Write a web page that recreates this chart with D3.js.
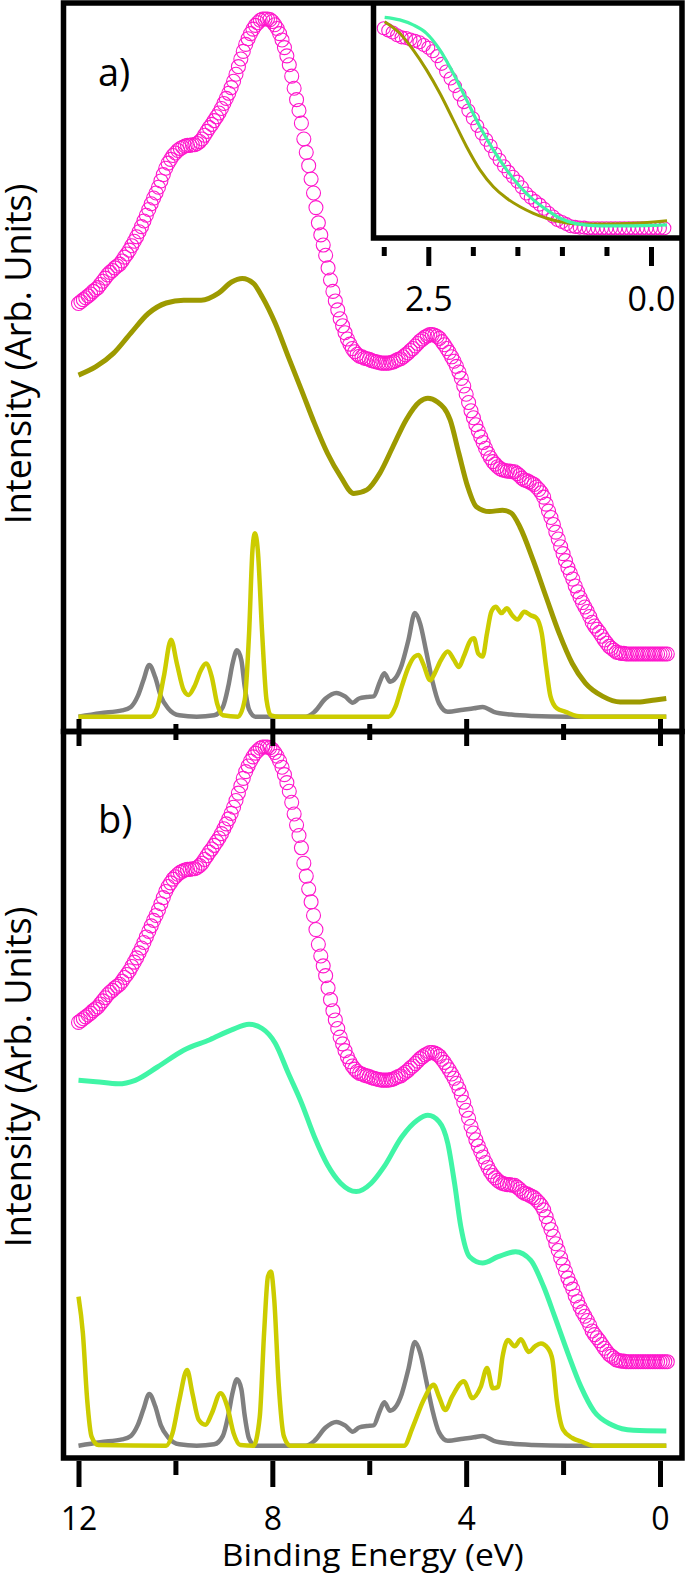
<!DOCTYPE html>
<html><head><meta charset="utf-8">
<script src="https://cdn.jsdelivr.net/npm/d3@7/dist/d3.min.js"></script>
<style>body{margin:0;background:#fff}svg{display:block}text{font-family:"Open Sans",sans-serif;fill:#000}</style>
</head><body><svg id="c" width="685" height="1575"></svg>
<script>
// ---------------- DATA ----------------
// measured spectrum (circles), sampled every 0.05 eV starting at 12.00 eV
const expStartEV = 12.0, expStepEV = 0.05;
const experiment = [
55.2,55.5,55.8,56.1,56.4,56.7,57.1,57.4,57.7,58.2,
58.7,59.2,59.7,60.1,60.4,60.8,61.1,61.4,61.9,62.5,
63.0,63.6,64.3,65.0,65.7,66.5,67.3,68.2,69.1,70.0,
70.9,71.8,72.6,73.5,74.5,75.5,76.5,77.3,77.9,78.5,
78.9,79.3,79.6,79.8,80.0,80.1,80.1,80.2,80.2,80.4,
80.7,81.1,81.7,82.3,82.9,83.4,84.0,84.6,85.2,85.9,
86.7,87.5,88.3,89.2,90.2,91.3,92.5,93.7,94.9,96.0,
96.9,97.7,98.4,99.0,99.4,99.8,100.0,100.0,100.0,99.9,
99.6,99.1,98.5,97.7,96.7,95.5,94.2,92.8,91.0,89.1,
87.3,85.6,83.6,81.1,79.0,76.9,74.8,72.6,70.3,67.9,
66.0,64.4,62.8,60.8,58.9,57.1,55.6,54.2,52.8,51.7,
50.6,49.6,48.8,48.1,47.6,47.2,46.9,46.8,46.6,46.5,
46.4,46.2,46.1,46.0,45.9,45.8,45.8,45.8,45.8,45.9,
46.0,46.2,46.4,46.5,46.8,47.1,47.4,47.8,48.1,48.5,
48.9,49.3,49.6,49.9,50.1,50.3,50.3,50.2,50.0,49.7,
49.2,48.7,48.1,47.5,46.8,46.1,45.3,44.4,43.4,42.2,
40.9,39.6,38.3,37.2,36.1,35.1,34.2,33.3,32.4,31.6,
30.9,30.3,29.9,29.5,29.2,29.0,28.9,28.8,28.8,28.7,
28.7,28.4,28.1,27.7,27.4,27.3,27.1,26.9,26.7,26.3,
25.9,25.4,24.7,23.6,22.5,21.5,20.4,19.2,18.1,16.9,
15.8,14.7,13.6,12.7,11.8,10.7,9.8,8.9,8.1,7.4,
6.7,5.9,5.0,4.4,3.9,3.4,2.8,2.2,1.7,1.2,
0.9,0.6,0.3,0.2,0.1,0.1,0.0,0.0,0.0,0.0,
0.0,0.0,0.0,0.0,0.0,0.0,0.0,0.0,0.0,0.0,
0.0,0.0,0.0,0.0
];
// panel a broadened theory (olive) [eV, intensity]
const oliveA = [[12.00,48.8],[11.64,50.0],[11.28,51.9],[10.92,54.8],[10.56,57.6],[10.19,59.1],[9.83,59.5],[9.47,59.5],[9.11,60.5],[8.84,62.1],[8.62,62.6],[8.39,61.9],[8.21,60.0],[7.94,56.2],[7.67,51.4],[7.40,46.7],[7.13,41.9],[6.86,37.6],[6.59,34.3],[6.32,31.9],[6.05,32.4],[5.78,34.8],[5.51,38.6],[5.24,42.4],[4.96,45.0],[4.79,45.5],[4.60,45.0],[4.33,42.4],[4.15,37.6],[3.97,32.9],[3.79,30.0],[3.52,29.3],[3.25,29.5],[3.07,29.1],[2.89,27.1],[2.62,22.4],[2.35,17.1],[2.08,11.9],[1.81,7.6],[1.54,4.8],[1.18,2.9],[0.82,2.1],[0.46,2.1],[0.10,2.4],[-0.13,2.6]];
// panel b broadened theory (green)
const tealB = [[12.00,52.2],[11.64,52.0],[11.18,51.7],[10.83,52.2],[10.37,54.1],[9.83,56.5],[9.29,58.0],[8.84,59.4],[8.48,60.2],[8.21,59.6],[7.94,57.5],[7.67,53.2],[7.40,49.0],[7.13,44.1],[6.86,40.1],[6.59,37.5],[6.27,36.3],[5.96,37.5],[5.69,39.9],[5.33,44.1],[5.01,46.5],[4.79,47.2],[4.56,46.3],[4.38,43.2],[4.24,37.5],[4.11,31.3],[3.93,27.0],[3.66,26.1],[3.34,27.0],[2.98,27.7],[2.67,26.5],[2.40,22.7],[2.17,18.4],[1.90,13.2],[1.63,8.4],[1.36,4.9],[1.00,3.0],[0.55,2.2],[-0.13,2.1]];
// partial DOS (grey), same in both panels
const greyDOS = [[12.00,0.0],[11.55,0.5],[11.10,0.9],[10.92,1.4],[10.78,2.9],[10.66,5.2],[10.54,7.4],[10.42,5.7],[10.30,2.9],[10.15,1.2],[9.92,0.2],[9.56,0.0],[9.20,0.2],[9.02,1.4],[8.91,4.3],[8.82,7.6],[8.73,9.5],[8.64,8.1],[8.57,4.3],[8.48,1.0],[8.35,0.0],[7.31,0.0],[7.13,0.7],[6.90,2.6],[6.68,3.4],[6.50,2.9],[6.34,2.0],[6.21,2.6],[6.05,2.8],[5.91,2.9],[5.78,5.0],[5.69,6.2],[5.57,5.0],[5.46,5.5],[5.33,7.4],[5.19,11.0],[5.06,14.8],[4.95,13.3],[4.83,9.5],[4.70,5.2],[4.56,1.9],[4.38,0.7],[4.06,1.0],[3.84,1.2],[3.66,1.4],[3.43,0.7],[3.07,0.3],[2.62,0.1],[1.90,0.0],[-0.13,0.0]];
// partial DOS (yellow), panel a
const yellowA = [[12.00,0.0],[10.51,0.0],[10.37,1.4],[10.24,5.7],[10.09,11.0],[9.97,7.6],[9.83,3.8],[9.73,3.1],[9.61,4.3],[9.47,6.7],[9.37,7.6],[9.25,5.7],[9.14,1.9],[9.02,0.2],[8.71,0.0],[8.57,2.4],[8.48,11.9],[8.41,23.8],[8.36,26.2],[8.30,23.8],[8.21,11.9],[8.12,2.4],[8.03,0.2],[7.85,0.0],[5.60,0.0],[5.46,1.4],[5.33,4.3],[5.19,7.1],[5.06,8.6],[4.98,8.8],[4.89,7.6],[4.74,5.2],[4.65,6.2],[4.52,8.1],[4.38,9.3],[4.25,8.1],[4.15,7.1],[4.05,8.6],[3.90,11.0],[3.84,11.2],[3.75,9.0],[3.66,8.6],[3.57,11.9],[3.48,15.0],[3.39,15.7],[3.27,14.8],[3.16,15.5],[3.05,14.5],[2.94,13.9],[2.80,15.0],[2.67,14.5],[2.55,14.1],[2.44,11.9],[2.35,7.1],[2.26,2.9],[2.13,1.2],[1.95,0.7],[1.72,0.1],[1.54,0.0],[-0.13,0.0]];
// partial DOS (yellow), panel b
const yellowB = [[12.00,21.3],[11.91,16.1],[11.82,6.5],[11.73,1.3],[11.59,0.1],[10.19,0.0],[10.06,1.8],[9.92,6.5],[9.76,10.8],[9.65,7.5],[9.52,3.7],[9.38,3.0],[9.25,4.6],[9.07,7.5],[8.93,5.6],[8.80,1.8],[8.66,0.1],[8.39,0.0],[8.26,4.1],[8.17,16.1],[8.09,24.2],[8.03,24.9],[7.96,20.8],[7.87,8.9],[7.76,1.3],[7.63,0.0],[5.28,0.0],[5.10,2.7],[4.88,6.5],[4.67,8.7],[4.56,7.0],[4.43,5.1],[4.29,7.0],[4.05,9.2],[3.87,6.8],[3.70,8.4],[3.57,11.1],[3.45,8.2],[3.34,8.4],[3.25,12.7],[3.14,15.1],[3.00,14.2],[2.87,15.2],[2.71,13.4],[2.58,14.2],[2.46,14.6],[2.31,13.9],[2.22,12.3],[2.13,6.5],[2.00,2.3],[1.81,1.1],[1.63,0.6],[1.36,0.0],[-0.13,0.0]];
// inset: valence-band edge
const insetMaxEV = 3.0;
const insetTeal = [[2.99,105.5],[2.82,104.2],[2.67,101.7],[2.52,97.5],[2.37,89.2],[2.22,77.5],[2.07,64.2],[1.92,50.8],[1.77,39.2],[1.62,29.2],[1.47,20.8],[1.32,14.2],[1.17,9.2],[1.02,5.0],[0.83,2.2],[0.57,1.2],[0.27,1.2],[-0.18,1.7]];
const insetOlive = [[2.99,103.3],[2.82,97.5],[2.67,89.2],[2.52,79.2],[2.37,67.5],[2.22,54.2],[2.07,40.8],[1.92,29.2],[1.77,20.8],[1.62,15.0],[1.47,10.8],[1.32,7.5],[1.17,5.0],[1.02,3.3],[0.80,2.2],[0.50,2.2],[0.20,2.5],[-0.18,3.8]];
// ticks & labels
const mainMajorTicks = [12, 8, 4, 0];
const mainMinorTicks = [10, 6, 2];
const insetMajorTicks = [2.5, 0.0];
const insetMinorTicks = [3.0, 2.0, 1.5, 1.0, 0.5];
const panelLabels = ["a)", "b)"];
const yTitle = "Intensity (Arb. Units)";
const xTitle = "Binding Energy (eV)";

// ---------------- LAYOUT ----------------
const C = {magenta:"#ff16cc", olive:"#9d9a00", yellow:"#cccc00", grey:"#808080", teal:"#40f5a6"};
const svg = d3.select("#c");
const L = 63.5, R = 682, TopA = 3, Mid = 731.5, BotB = 1458;

const x = d3.scaleLinear().domain([12, 0]).range([78.5, 660]);
const expY = [d3.scaleLinear().domain([0,100]).range([654, 19]),
              d3.scaleLinear().domain([0,100]).range([1361.7, 747])];
const thY  = [d3.scaleLinear().domain([0,100]).range([716.7, 16.7]),
              d3.scaleLinear().domain([0,100]).range([1445.7, 745.7])];

const expPts = experiment.map((v,i) => ({e: +(expStartEV - i*expStepEV).toFixed(2), v}));

const defs = svg.append("defs");
defs.append("clipPath").attr("id","clipA").append("rect").attr("x",L).attr("y",TopA).attr("width",R-L).attr("height",Mid-TopA);
defs.append("clipPath").attr("id","clipB").append("rect").attr("x",L).attr("y",Mid).attr("width",R-L).attr("height",BotB-Mid);

function lineGen(xs, ys){ return d3.line().x(d=>xs(d[0])).y(d=>ys(d[1])).curve(d3.curveMonotoneX); }

function drawPanel(i, broad, broadColor, yellow){
  const g = svg.append("g").attr("clip-path", `url(#clip${i? "B":"A"})`);
  g.append("path").datum(greyDOS).attr("d", lineGen(x, thY[i])).attr("fill","none").attr("stroke",C.grey).attr("stroke-width",4.5).attr("stroke-linejoin","round");
  g.append("path").datum(yellow).attr("d", lineGen(x, thY[i])).attr("fill","none").attr("stroke",C.yellow).attr("stroke-width",4.5).attr("stroke-linejoin","round");
  g.append("path").datum(broad).attr("d", lineGen(x, thY[i])).attr("fill","none").attr("stroke",broadColor).attr("stroke-width",5).attr("stroke-linejoin","round");
  g.selectAll("circle.exp").data(expPts).join("circle").attr("class","exp")
    .attr("cx", d=>x(d.e)).attr("cy", d=>expY[i](d.v)).attr("r",7)
    .attr("fill","none").attr("stroke",C.magenta).attr("stroke-width",1.1);
}
drawPanel(0, oliveA, C.olive, yellowA);
drawPanel(1, tealB, C.teal, yellowB);

// ---------------- INSET ----------------
const IL = 373.5, IT = TopA, IB = 238;
const xi = d3.scaleLinear().domain([2.5, 0]).range([428.3, 651]);
const expYi = d3.scaleLinear().domain([0, 28.7]).range([228.3, 28.3]);
const thYi = d3.scaleLinear().domain([0, 100]).range([228.3, 28.3]);
defs.append("clipPath").attr("id","clipI").append("rect").attr("x",IL).attr("y",IT).attr("width",R-IL).attr("height",IB-IT);
svg.append("rect").attr("x",IL).attr("y",IT).attr("width",R-IL).attr("height",IB-IT).attr("fill","#fff");
const gi = svg.append("g").attr("clip-path","url(#clipI)");
gi.selectAll("circle").data(expPts.filter(d=>d.e<=insetMaxEV+1e-6)).join("circle")
  .attr("cx", d=>xi(d.e)).attr("cy", d=>expYi(d.v)).attr("r",6.5)
  .attr("fill","none").attr("stroke",C.magenta).attr("stroke-width",1.1);
gi.append("path").datum(insetOlive).attr("d", lineGen(xi, thYi)).attr("fill","none").attr("stroke",C.olive).attr("stroke-width",3);
gi.append("path").datum(insetTeal).attr("d", lineGen(xi, thYi)).attr("fill","none").attr("stroke",C.teal).attr("stroke-width",3.2);

// ---------------- FRAMES ----------------
const frame = svg.append("g").attr("fill","none").attr("stroke","#000").attr("stroke-width",5.5);
frame.append("rect").attr("x",L).attr("y",TopA).attr("width",R-L).attr("height",Mid-TopA);
frame.append("rect").attr("x",L).attr("y",Mid).attr("width",R-L).attr("height",BotB-Mid);
frame.append("path").attr("d", `M${IL},${IT}V${IB}H${R}`);

// ---------------- AXES ----------------
function styleAxis(g, fs, keepText){
  g.select(".domain").remove();
  g.selectAll(".tick line").attr("stroke","#000").attr("stroke-width",5);
  if (keepText) g.selectAll(".tick text").attr("font-size",fs).attr("fill","#000").attr("font-family",'"Open Sans",sans-serif');
  else g.selectAll(".tick text").remove();
}
// bottom axis
svg.append("g").attr("transform",`translate(0,${BotB+3})`)
  .call(d3.axisBottom(x).tickValues(mainMajorTicks).tickSize(26).tickPadding(20).tickFormat(d3.format("d")))
  .call(g=>styleAxis(g,32,true));
svg.append("g").attr("transform",`translate(0,${BotB+3})`)
  .call(d3.axisBottom(x).tickValues(mainMinorTicks).tickSize(14))
  .call(g=>styleAxis(g,32,false));
// ticks across the shared border
svg.append("g").attr("transform",`translate(0,${Mid-12.5})`)
  .call(d3.axisBottom(x).tickValues(mainMajorTicks).tickSize(27))
  .call(g=>styleAxis(g,32,false));
svg.append("g").attr("transform",`translate(0,${Mid-7.5})`)
  .call(d3.axisBottom(x).tickValues(mainMinorTicks).tickSize(16))
  .call(g=>styleAxis(g,32,false));
// inset axis
svg.append("g").attr("transform",`translate(0,${IB+9})`)
  .call(d3.axisBottom(xi).tickValues(insetMajorTicks).tickSize(19).tickPadding(21).tickFormat(d3.format(".1f")))
  .call(g=>styleAxis(g,34,true));
svg.append("g").attr("transform",`translate(0,${IB+9})`)
  .call(d3.axisBottom(xi).tickValues(insetMinorTicks).tickSize(9))
  .call(g=>styleAxis(g,34,false));

// ---------------- TEXT ----------------
svg.append("text").attr("x",(L+R)/2).attr("y",1566).attr("text-anchor","middle").attr("font-size",31)
  .attr("textLength",302).attr("lengthAdjust","spacingAndGlyphs").text(xTitle);
[354, 1077].forEach(cy => {
  svg.append("text").attr("transform",`translate(31,${cy}) rotate(-90)`).attr("text-anchor","middle").attr("font-size",36).text(yTitle);
});
svg.append("text").attr("x",98).attr("y",86).attr("font-size",38).text(panelLabels[0]);
svg.append("text").attr("x",98).attr("y",833).attr("font-size",38).text(panelLabels[1]);
</script></body></html>
